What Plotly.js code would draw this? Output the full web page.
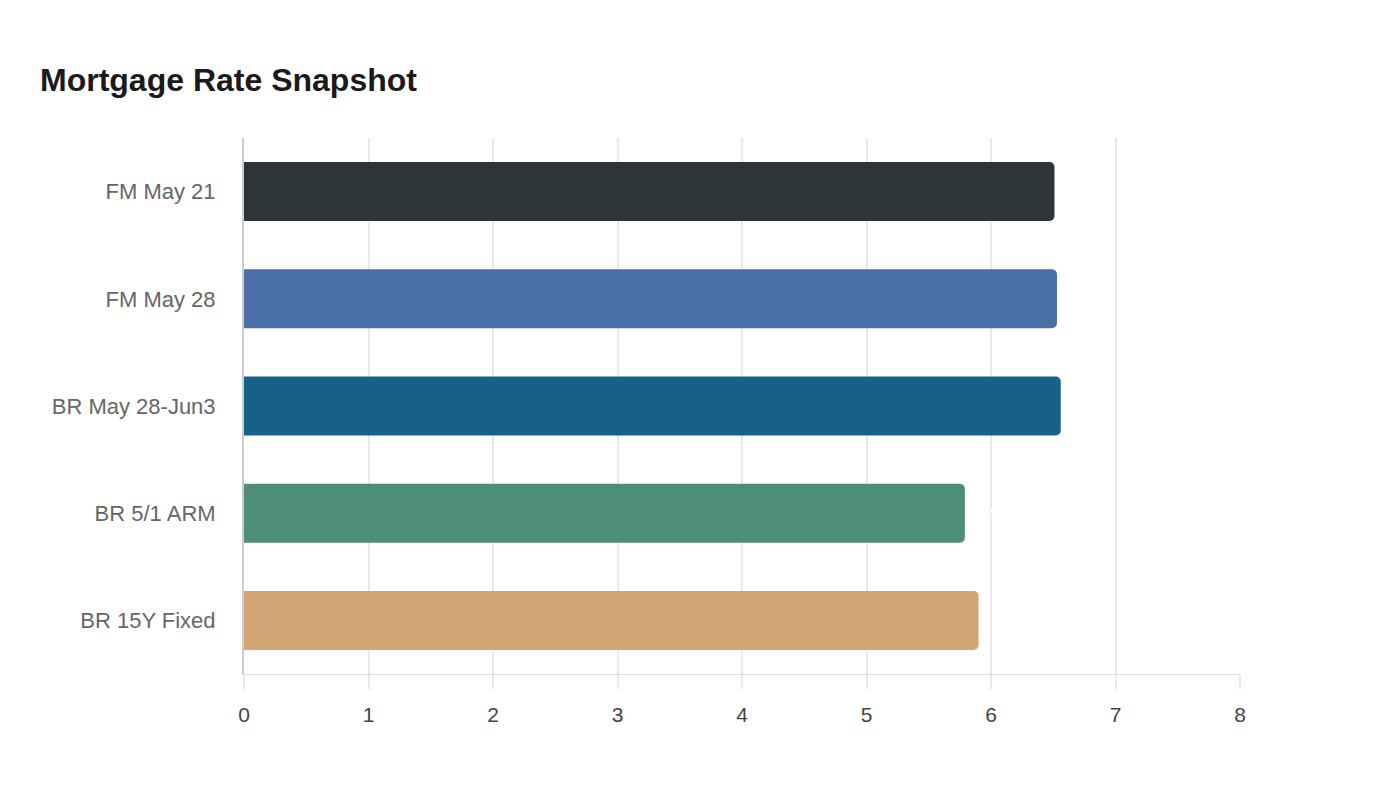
<!DOCTYPE html>
<html>
<head>
<meta charset="utf-8">
<script src="https://cdn.plot.ly/plotly-3.0.1.min.js"></script>
<style>html,body{margin:0;padding:0;background:#fff;}#chart{width:1400px;height:800px;}</style>
</head>
<body>
<div id="chart"></div>
<script>
const categories = ["FM May 21", "FM May 28", "BR May 28-Jun3", "BR 5/1 ARM", "BR 15Y Fixed"];
const rates = [6.51, 6.53, 6.56, 5.79, 5.90];
const barColors = ["#2d3538", "#4a6fa5", "#176087", "#4f8d7b", "#d3a474"];
const xTicks = [0, 1, 2, 3, 4, 5, 6, 7, 8];

const trace = {
  type: "bar",
  orientation: "h",
  y: categories,
  x: rates,
  marker: { color: barColors, cornerradius: 5 },
  text: rates.map(v => v.toFixed(2) + "%"),
  textposition: "outside",
  textfont: { color: "#ffffff", size: 16, family: "Liberation Sans, Arial, sans-serif" },
  cliponaxis: false,
  hoverinfo: "x+y"
};

const layout = {
  width: 1400, height: 800,
  paper_bgcolor: "#ffffff", plot_bgcolor: "#ffffff",
  margin: { l: 244, r: 160, t: 138, b: 126 },
  font: { family: "Liberation Sans, Arial, sans-serif" },
  title: {
    text: "<b>Mortgage Rate Snapshot</b>",
    xref: "container", yref: "container",
    x: 40 / 1400, xanchor: "left",
    y: 1 - 80 / 800, yanchor: "middle",
    font: { size: 32, color: "#1a1a1a" }
  },
  bargap: 0.45,
  showlegend: false,
  xaxis: {
    range: [0, 8],
    tickvals: xTicks,
    ticktext: xTicks.map(String),
    showgrid: true, gridcolor: "#e8e8e8", gridwidth: 2,
    zeroline: false,
    showline: true, linecolor: "#dddddd", linewidth: 1,
    ticks: "outside", ticklen: 14, tickcolor: "#e8e8e8", tickwidth: 2,
    ticklabelstandoff: 8,
    tickfont: { size: 21, color: "#444444" }
  },
  yaxis: {
    autorange: "reversed",
    showgrid: false, zeroline: false,
    showline: true, linecolor: "#cccccc", linewidth: 2,
    ticks: "", ticklabelstandoff: 22,
    tickfont: { size: 22, color: "#666666" }
  }
};

Plotly.newPlot("chart", [trace], layout, { displayModeBar: false, staticPlot: true });
</script>
</body>
</html>
